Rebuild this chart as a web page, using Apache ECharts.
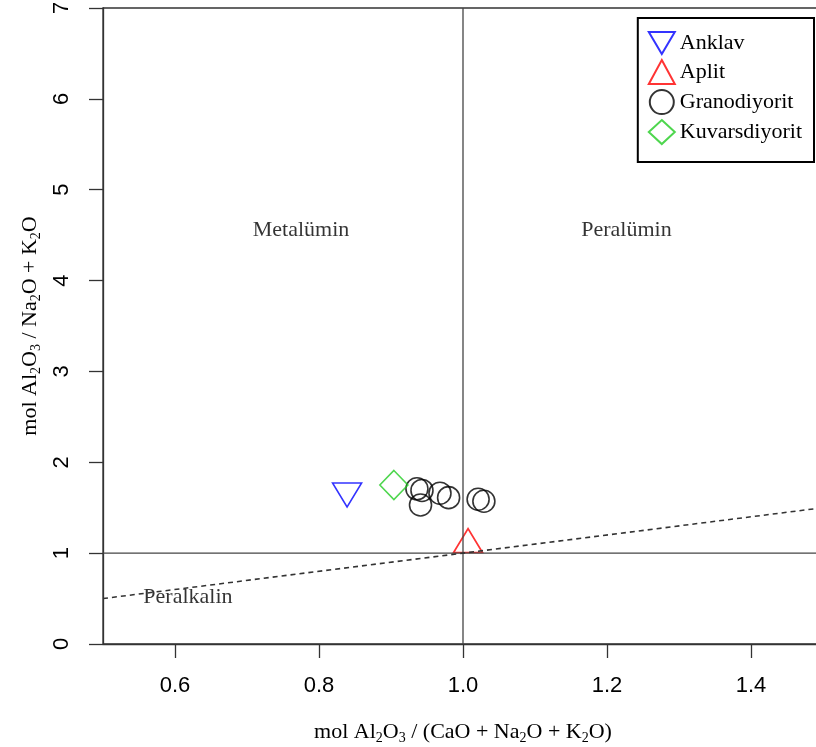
<!DOCTYPE html>
<html>
<head>
<meta charset="utf-8">
<script src="https://cdn.jsdelivr.net/npm/echarts@6/dist/echarts.min.js"></script>
<style>
  html, body { margin: 0; padding: 0; background: #fff; }
  #chart { width: 816px; height: 747px; }
</style>
</head>
<body>
<div id="chart"></div>
<script>
// Axis ranges and tick labels
const xRange = [0.5, 1.5];
const yRange = [0, 7];
const xTicks = [0.6, 0.8, 1.0, 1.2, 1.4];
const yTicks = [0, 1, 2, 3, 4, 5, 6, 7];

// Samples: [A/CNK, A/NK]
const anklav = [[0.839, 1.684]];
const aplit = [[1.007, 1.094]];
const granodiyorit = [
  [0.936, 1.708], [0.943, 1.690], [0.941, 1.530], [0.968, 1.660],
  [0.980, 1.611], [1.021, 1.593], [1.029, 1.571]
];
const kuvarsdiyorit = [[0.904, 1.750]];

// Field boundaries and field names
const boundaryACNK = 1;
const boundaryANK = 1;
const alkaliLine = [[0.5, 0.5], [1.5, 1.5]];
const fieldNames = ['Metalümin', 'Peralümin', 'Peralkalin'];
const fieldPos = [[0.775, 4.55], [1.227, 4.55], [0.618, 0.51]];

const SERIF = '"Liberation Serif", "Times New Roman", serif';
const SANS = '"Liberation Sans", Arial, sans-serif';
const AXIS_COLOR = '#333';
const DOWN_TRIANGLE = 'path://M0,0L2,0L1,1.7Z';

const richName = {
  n: { fontFamily: SERIF, fontSize: 22, lineHeight: 26, color: '#000' },
  s: { fontFamily: SERIF, fontSize: 14, lineHeight: 8, verticalAlign: 'bottom', color: '#000' }
};

function hollow(color) {
  return { color: 'rgba(0,0,0,0)', borderColor: color, borderWidth: 1.6 };
}

const chart = echarts.init(document.getElementById('chart'), null, { renderer: 'canvas' });

chart.setOption({
  animation: false,
  backgroundColor: '#fff',
  grid: {
    left: 103, top: 8, width: 720, height: 636,
    outerBoundsMode: 'none',
    containLabel: false,
    show: true, borderColor: AXIS_COLOR, borderWidth: 1.3, backgroundColor: 'transparent'
  },
  legend: {
    data: [
      { name: 'Anklav', icon: DOWN_TRIANGLE },
      'Aplit', 'Granodiyorit', 'Kuvarsdiyorit'
    ],
    orient: 'vertical',
    right: 2, top: 18,
    itemWidth: 26, itemHeight: 24, itemGap: 4,
    padding: [13, 12, 17, 10],
    borderColor: '#000', borderWidth: 2,
    backgroundColor: '#fff',
    textStyle: { fontFamily: SERIF, fontSize: 22, lineHeight: 22, color: '#000' },
    selectedMode: false
  },
  xAxis: {
    type: 'value',
    min: xRange[0], max: xRange[1],
    splitLine: { show: false },
    axisLine: { show: true, onZero: false, lineStyle: { color: AXIS_COLOR, width: 1.3 } },
    axisTick: { show: true, length: 14, customValues: xTicks, lineStyle: { color: AXIS_COLOR, width: 1.3 } },
    axisLabel: {
      customValues: xTicks, margin: 31,
      fontFamily: SANS, fontSize: 22, color: '#000',
      formatter: v => v.toFixed(1)
    },
    name: '{n|mol Al}{s|2}{n|O}{s|3}{n| / (CaO + Na}{s|2}{n|O + K}{s|2}{n|O)}',
    nameLocation: 'middle', nameGap: 75,
    nameTextStyle: { rich: richName }
  },
  yAxis: {
    type: 'value',
    min: yRange[0], max: yRange[1],
    splitLine: { show: false },
    axisLine: { show: true, onZero: false, lineStyle: { color: AXIS_COLOR, width: 1.3 } },
    axisTick: { show: true, length: 14, customValues: yTicks, lineStyle: { color: AXIS_COLOR, width: 1.3 } },
    axisLabel: {
      customValues: yTicks, margin: 30, rotate: 90,
      fontFamily: SANS, fontSize: 22, color: '#000'
    },
    name: '{n|mol Al}{s|2}{n|O}{s|3}{n| / Na}{s|2}{n|O + K}{s|2}{n|O}',
    nameLocation: 'middle', nameRotate: 90, nameGap: 58,
    nameTextStyle: { rich: richName }
  },
  series: [
    {
      name: 'A/CNK = 1', type: 'line', silent: true, symbol: 'none',
      data: [[boundaryACNK, yRange[0]], [boundaryACNK, yRange[1]]],
      lineStyle: { color: '#444', width: 1.3 }
    },
    {
      name: 'A/NK = 1', type: 'line', silent: true, symbol: 'none',
      data: [[xRange[0], boundaryANK], [xRange[1], boundaryANK]],
      lineStyle: { color: '#444', width: 1.3 }
    },
    {
      name: 'A/NK = A/CNK', type: 'line', silent: true, symbol: 'none',
      data: alkaliLine,
      lineStyle: { color: '#333', width: 1.6, type: [5, 4] }
    },
    {
      name: 'Anklav', type: 'scatter', data: anklav,
      symbol: 'triangle', symbolRotate: 180, symbolSize: [29, 24], symbolOffset: [0, 4],
      itemStyle: hollow('#0000ff')
    },
    {
      name: 'Aplit', type: 'scatter', data: aplit,
      symbol: 'triangle', symbolSize: [29, 24], symbolOffset: [0, -4],
      itemStyle: hollow('#ff0000')
    },
    {
      name: 'Granodiyorit', type: 'scatter', data: granodiyorit,
      symbol: 'circle', symbolSize: 22,
      itemStyle: hollow('#000000')
    },
    {
      name: 'Kuvarsdiyorit', type: 'scatter', data: kuvarsdiyorit,
      symbol: 'diamond', symbolSize: [28, 29],
      itemStyle: hollow('#22cc22')
    },
    {
      name: 'fields', type: 'scatter', silent: true,
      data: fieldPos.map((p, i) => ({ value: p, name: fieldNames[i] })),
      symbolSize: 1, itemStyle: { color: 'rgba(0,0,0,0)' },
      label: {
        show: true, position: 'inside', formatter: p => p.name,
        fontFamily: SERIF, fontSize: 22, color: '#000', textBorderWidth: 0
      }
    }
  ]
});
</script>
</body>
</html>
